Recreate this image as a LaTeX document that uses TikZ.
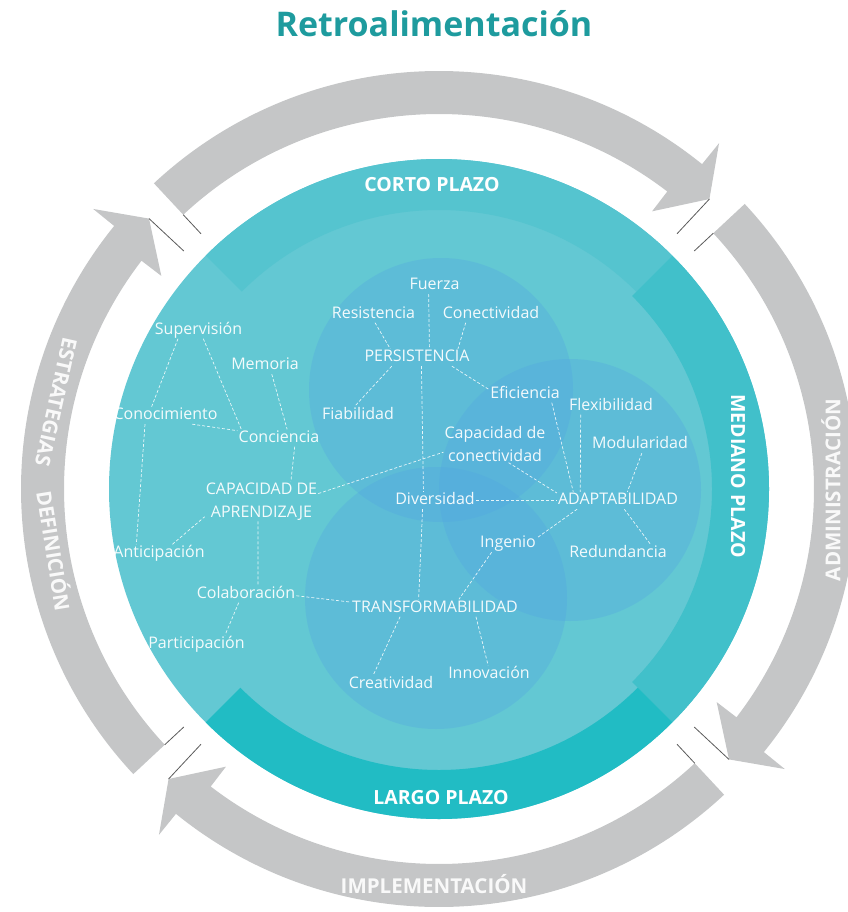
\documentclass[tikz,border=0pt]{standalone}
\usepackage{fontspec}
\setmainfont{Open Sans}
\usepackage{tikz}

\definecolor{disc}{RGB}{99,200,211}
\definecolor{ringtop}{RGB}{85,196,207}
\definecolor{ringmid}{RGB}{65,192,202}
\definecolor{ringlow}{RGB}{33,188,196}
\definecolor{venn}{RGB}{82,166,225}
\definecolor{arrowgray}{RGB}{197,198,199}
\definecolor{titleteal}{RGB}{30,155,158}
\definecolor{cutline}{RGB}{90,90,90}

\begin{document}
\begin{tikzpicture}[x=1pt, y=1pt,
    lbl/.style={text=white, text opacity=0.93, font=\fontsize{16}{22.6}\selectfont, inner sep=1pt},
    word/.style={lbl, text height=11.5pt, text depth=3.5pt},
    twoline/.style={lbl, align=center},
    link/.style={white, dash pattern=on 3pt off 2pt, line width=0.7pt, opacity=0.85},
    horizon/.style={text=white, font=\fontsize{19.5}{20}\selectfont\bfseries,
                    text height=14pt, text depth=0pt, inner sep=0pt},
    phase/.style={text=white!95!gray, font=\fontsize{20.5}{21}\selectfont\bfseries,
                  text height=14.6pt, text depth=0pt, inner sep=0pt},
    cut/.style={cutline, line width=0.8pt}
  ]
  \useasboundingbox (0,0) rectangle (847,-912);

  \begin{scope}[shift={(439,-489)}]
    % four grey arrows running clockwise round the rings
    \foreach \c in {90,0,-90,180}{
      \fill[arrowgray] ({\c+43}:375) -- ({\c+43}:418)
        arc[start angle=\c+43, end angle=\c-39, radius=418]
        -- ({\c-39}:445) -- ({\c-43}:396.5) -- ({\c-37.5}:350) -- ({\c-37.5}:375)
        arc[start angle=\c-37.5, end angle=\c+43, radius=375] -- cycle;
      \draw[cut] ({\c+43}:349) -- ({\c+43}:375);
      \draw[cut] ({\c-43}:349) -- ({\c-43}:396.5);
    }

    % disc and the three time bands
    \fill[disc] (0,0) circle[radius=330];
    \fill[ringtop] (45:279) -- (45:330) arc[start angle=45, end angle=135, radius=330]
      -- (135:279) arc[start angle=135, end angle=45, radius=279] -- cycle;
    \fill[ringmid] (-45:273) -- (-45:330) arc[start angle=-45, end angle=45, radius=330]
      -- (45:273) arc[start angle=45, end angle=-45, radius=273] -- cycle;
    \fill[ringlow] (225:281) -- (225:330) arc[start angle=225, end angle=315, radius=330]
      -- (315:281) arc[start angle=315, end angle=225, radius=281] -- cycle;
  \end{scope}

  % three overlapping capacities
  \fill[venn, opacity=0.35] (441,-390) circle[radius=132];
  \fill[venn, opacity=0.35] (570,-490) circle[radius=131];
  \fill[venn, opacity=0.35] (436,-598) circle[radius=131];

  \node[horizon] (corto) at (432,-185) {CORTO PLAZO};
  \node[horizon, rotate=-90] (mediano) at (738,-476) {MEDIANO PLAZO};
  \node[horizon] (largo) at (441,-797) {LARGO PLAZO};

  \node[phase] (impl) at (434,-886) {IMPLEMENTACIÓN};
  \node[phase, rotate=90] (admin) at (833,-490) {ADMINISTRACIÓN};
  \node[phase, rotate=-102.6] (estr) at (56,-402) {ESTRATEGIAS};
  \node[phase, rotate=-80.9] (defi) at (53,-551) {DEFINICIÓN};

  \node[anchor=base, text=titleteal, font=\fontsize{34}{35}\selectfont\bfseries] (title)
    at (434,-37) {Retroalimentación};

  % learning side
  \node[word] (sup)  at (198.5,-330)   {Supervisión};
  \node[word] (mem)  at (265,-365.5)   {Memoria};
  \node[word] (cono) at (165.5,-415.5) {Conocimiento};
  \node[word] (conc) at (279,-438)     {Conciencia};
  \node[twoline] (capap) at (261.5,-501.5) {CAPACIDAD DE\\APRENDIZAJE};
  \node[word] (anti) at (159,-553)     {Anticipación};
  \node[word] (cola) at (246,-594)     {Colaboración};
  \node[word] (part) at (196.5,-644)   {Participación};

  % persistence
  \node[word] (fue)  at (434.5,-285.5) {Fuerza};
  \node[word] (res)  at (373.5,-314)   {Resistencia};
  \node[word] (cnt)  at (491,-314)     {Conectividad};
  \node[word] (pers) at (417,-357.5)   {PERSISTENCIA};
  \node[word] (fia)  at (358,-415)     {Fiabilidad};
  \node[word] (efi)  at (525,-394)     {Eficiencia};

  % adaptability
  \node[word] (flex) at (611,-406)     {Flexibilidad};
  \node[twoline] (capco) at (495,-444) {Capacidad de\\conectividad};
  \node[word] (mod)  at (640,-444.5)   {Modularidad};
  \node[word] (div)  at (435,-500.5)   {Diversidad};
  \node[word] (adap) at (618,-500.5)   {ADAPTABILIDAD};
  \node[word] (ing)  at (508,-543.5)   {Ingenio};
  \node[word] (red)  at (618,-553)     {Redundancia};

  % transformability
  \node[word] (trans) at (435,-608)    {TRANSFORMABILIDAD};
  \node[word] (inn)  at (489,-674)     {Innovación};
  \node[word] (cre)  at (391,-684)     {Creatividad};

  \draw[link] (sup.-157.6) -- (cono.148.9);
  \draw[link] (sup.-61) -- (conc.167);
  \draw[link] (mem.-52.6) -- (conc.47.8);
  \draw[link] (cono.-18.1) -- (conc.170.8);
  \draw[link] (cono.-157.2) -- (anti.159.5);
  \draw[link] (conc.-29.5) -- (capap.34.7);
  \draw[link] (anti.33.8) -- (capap.195.1);
  \draw[link] (capap.-100.6) -- (cola.36);
  \draw[link] (cola.-130.3) -- (part.17.1);
  \draw[link] (cola.-2) -- (trans.176.1);
  \draw[link] (capap.8.5) -- (capco.189.3);

  \draw[link] (fue.-124.3) -- (pers.35.8);
  \draw[link] (res.-80.6) -- (pers.162.6);
  \draw[link] (cnt.-161.1) -- (pers.12.5);
  \draw[link] (pers.-161.2) -- (fia.111.2);
  \draw[link] (pers.-14.2) -- (efi.173.8);
  \draw[link] (pers.-63.2) -- (div.143.3);
  \draw[link] (div.-145.6) -- (trans.152.3);
  \draw[link] (div.0) -- (adap.180);

  \draw[link] (efi.-18.7) -- (adap.169.7);
  \draw[link] (flex.-164.7) -- (adap.167.4);
  \draw[link] (mod.-78) -- (adap.43.7);
  \draw[link] (capco.-54.3) -- (adap.173.5);
  \draw[link] (adap.-168.1) -- (ing.11.8);
  \draw[link] (adap.-54.8) -- (red.15.5);

  \draw[link] (ing.-152.9) -- (trans.20.8);
  \draw[link] (trans.-166.2) -- (cre.154.7);
  \draw[link] (trans.-12.1) -- (inn.96.7);
\end{tikzpicture}
\end{document}
